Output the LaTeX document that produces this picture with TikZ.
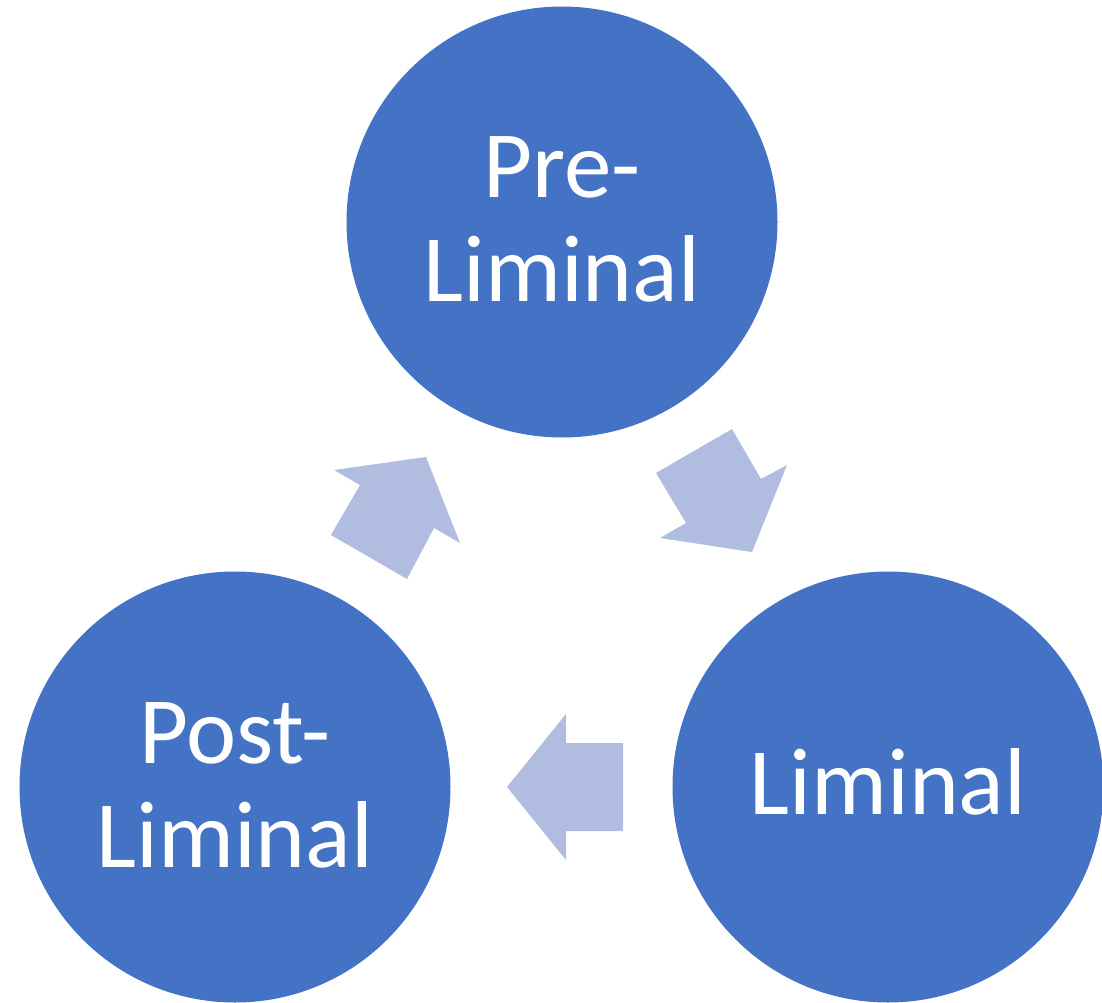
\documentclass[tikz,border=0pt]{standalone}
\usepackage{fontspec}
\setmainfont{Carlito}
\definecolor{cblue}{HTML}{4472C4}
\definecolor{ablue}{HTML}{B0BCE0}
\begin{document}
\begin{tikzpicture}[x=1pt,y=-1pt,
  phase/.style={circle, fill=cblue, draw=none, minimum size=431pt, inner sep=0pt,
    text=white, align=center, font=\fontsize{95}{104}\selectfont},
  blockarrow/.style={fill=ablue, draw=none}]
\useasboundingbox (0,0) rectangle (1102,1003);
\node[phase, text depth=5pt] (pre) at (562,222) {Pre-\\Liminal};
\node[phase, text depth=4pt] (post) at (235,787) {Post-\\Liminal};
\node[phase, text depth=10pt] (lim) at (888,787) {Liminal};
% arrow pre -> liminal
\fill[blockarrow] (656,473) -- (732,429) -- (761,479) -- (787,465) -- (752,552) -- (660,538) -- (686,523) -- cycle;
% arrow liminal -> post
\fill[blockarrow] (623,743) -- (566,743) -- (566,714) -- (507,787) -- (566,860) -- (566,831) -- (623,831) -- cycle;
% arrow post -> pre
\fill[blockarrow] (407,579) -- (331,535) -- (360,485) -- (334,470) -- (426,457) -- (460,543) -- (434,528) -- cycle;
\end{tikzpicture}
\end{document}
